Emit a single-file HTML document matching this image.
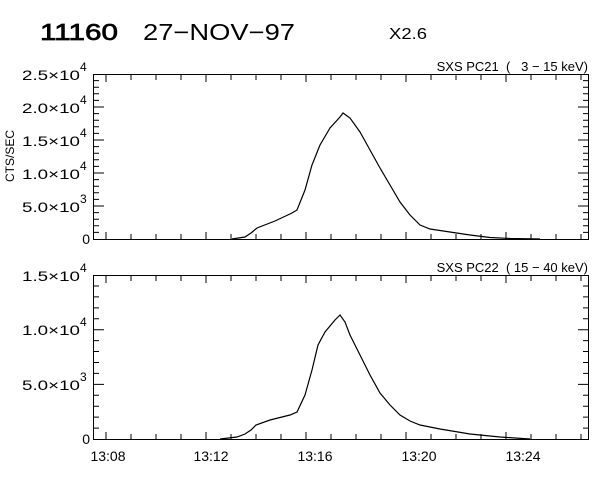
<!DOCTYPE html>
<html><head><style>body{margin:0;background:#fff}svg{display:block}text{white-space:pre}</style></head><body>
<svg width="600" height="480" xmlns="http://www.w3.org/2000/svg" font-family="Liberation Sans, sans-serif" fill="#000" xml:space="preserve">
<text x="40" y="40" font-size="23" stroke="#000" stroke-width="0.7" textLength="78" lengthAdjust="spacingAndGlyphs">11160</text>
<text x="143" y="40" font-size="23" textLength="152" lengthAdjust="spacingAndGlyphs">27−NOV−97</text>
<text x="389" y="39" font-size="16" textLength="38" lengthAdjust="spacingAndGlyphs">X2.6</text>
<text x="588" y="71" font-size="13" text-anchor="end">SXS PC21  (   3 − 15 keV)</text>
<text x="588" y="272" font-size="13" text-anchor="end">SXS PC22  ( 15 − 40 keV)</text>
<text transform="translate(14,156) rotate(-90)" font-size="12" text-anchor="middle">CTS/SEC</text>
<g fill="none" stroke="#000" stroke-width="1">
<rect x="93.5" y="74.5" width="495" height="165"/>
<rect x="93.5" y="275.5" width="495" height="164"/>
<path d="
M106,239v-7M131,239v-5M156,239v-5M181,239v-5M206,239v-7M231,239v-5M256,239v-5M281,239v-5M306,239v-7M331,239v-5M356,239v-5M381,239v-5M406,239v-7M431,239v-5M456,239v-5M481,239v-5M506,239v-7M531,239v-5M556,239v-5M581,239v-5
M106,75v7M131,75v5M156,75v5M181,75v5M206,75v7M231,75v5M256,75v5M281,75v5M306,75v7M331,75v5M356,75v5M381,75v5M406,75v7M431,75v5M456,75v5M481,75v5M506,75v7M531,75v5M556,75v5M581,75v5
M106,439v-7M131,439v-5M156,439v-5M181,439v-5M206,439v-7M231,439v-5M256,439v-5M281,439v-5M306,439v-7M331,439v-5M356,439v-5M381,439v-5M406,439v-7M431,439v-5M456,439v-5M481,439v-5M506,439v-7M531,439v-5M556,439v-5M581,439v-5
M106,276v7M131,276v5M156,276v5M181,276v5M206,276v7M231,276v5M256,276v5M281,276v5M306,276v7M331,276v5M356,276v5M381,276v5M406,276v7M431,276v5M456,276v5M481,276v5M506,276v7M531,276v5M556,276v5M581,276v5"/>
</g>
<g stroke="#000" stroke-width="1" id="yt"></g>
<g font-size="14">
<text x="90" y="244" text-anchor="end">0</text>
<text x="22" y="212" textLength="58" lengthAdjust="spacingAndGlyphs">5.0×10</text><text x="80" y="203" font-size="12">3</text>
<text x="22" y="179" textLength="58" lengthAdjust="spacingAndGlyphs">1.0×10</text><text x="80" y="170" font-size="12">4</text>
<text x="22" y="146" textLength="58" lengthAdjust="spacingAndGlyphs">1.5×10</text><text x="80" y="137" font-size="12">4</text>
<text x="22" y="113" textLength="58" lengthAdjust="spacingAndGlyphs">2.0×10</text><text x="80" y="104" font-size="12">4</text>
<text x="22" y="80" textLength="58" lengthAdjust="spacingAndGlyphs">2.5×10</text><text x="80" y="71" font-size="12">4</text>
<text x="90" y="444" text-anchor="end">0</text>
<text x="22" y="390" textLength="58" lengthAdjust="spacingAndGlyphs">5.0×10</text><text x="80" y="381" font-size="12">3</text>
<text x="22" y="335" textLength="58" lengthAdjust="spacingAndGlyphs">1.0×10</text><text x="80" y="326" font-size="12">4</text>
<text x="22" y="281" textLength="58" lengthAdjust="spacingAndGlyphs">1.5×10</text><text x="80" y="272" font-size="12">4</text>
</g>
<g font-size="14" text-anchor="middle">
<text x="108" y="461">13:08</text><text x="211" y="461">13:12</text><text x="315" y="461">13:16</text><text x="419" y="461">13:20</text><text x="523" y="461">13:24</text>
</g>
<path fill="none" stroke="#000" stroke-width="1.2" d="M232,239 L245,237 L251,233 L257,228 L275,221 L292,213 L297,210 L305,190 L312,165 L320,145 L330,128 L340,117 L343,113 L350,118 L360,132 L370,150 L380,168 L390,185 L400,202 L410,215 L420,225 L430,229 L450,232 L470,235 L490,237.5 L510,238.5 L540,239"/>
<path fill="none" stroke="#000" stroke-width="1.2" d="M220,439 L237,437 L245,434 L251,430 L256,425 L270,420 L290,415 L297,412 L305,395 L312,370 L318,345 L325,332 L335,320 L340,315 L345,322 L350,335 L360,355 L370,375 L380,393 L390,405 L400,415 L410,421 L420,425 L440,429 L470,434 L500,437 L530,439"/>
<script>
var g=document.getElementById('yt'),d='';
for(var i=1;i<25;i++){var y=239-i*6.6,L=i%5==0?10:5;d+='M94,'+y+'h'+L+'M588,'+y+'h-'+L;}
for(var i=1;i<15;i++){var y=439-i*10.93,L=i%5==0?10:5;d+='M94,'+y+'h'+L+'M588,'+y+'h-'+L;}
var p=document.createElementNS('http://www.w3.org/2000/svg','path');p.setAttribute('d',d);p.setAttribute('fill','none');g.appendChild(p);
</script>
</svg>
</body></html>
